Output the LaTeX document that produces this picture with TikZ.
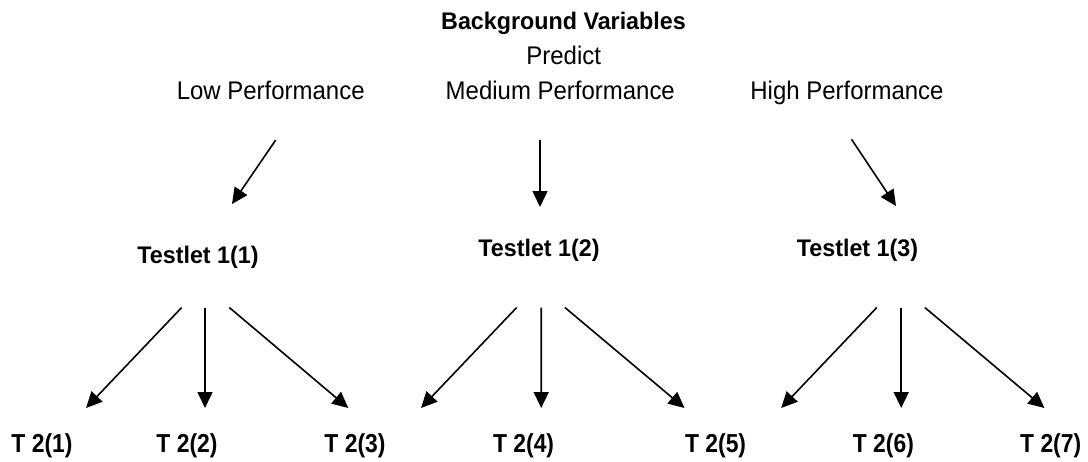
\documentclass[tikz,border=0pt]{standalone}
\usepackage{fontspec}
\setmainfont{Liberation Sans}
\newfontfamily\stretchA[FakeStretch=0.94]{Liberation Sans}
\newfontfamily\stretchB[FakeStretch=0.97]{Liberation Sans}
\newfontfamily\stretchC[FakeStretch=0.88]{Liberation Sans}
\usetikzlibrary{arrows.meta}
\begin{document}
\begin{tikzpicture}[x=1pt,y=-1pt,
  reg/.style={inner sep=0pt,anchor=base,font=\stretchA\fontsize{25.5pt}{28pt}\selectfont},
  bld/.style={inner sep=0pt,anchor=base,font=\stretchB\fontsize{24pt}{27pt}\selectfont\bfseries},
  sml/.style={inner sep=0pt,anchor=base,font=\stretchC\fontsize{26pt}{28pt}\selectfont\bfseries},
  arr/.style={line width=1.6pt,-{Triangle[length=16pt,width=15pt]}}]
\useasboundingbox[fill=white] (0,0) rectangle (1088,461);
% top texts
\node[bld] (title) at (563.5,29.3) {Background Variables};
\node[reg] (predict) at (563.7,64) {Predict};
\node[reg] (medium) at (560.3,99) {Medium Performance};
\node[reg] (low) at (270.7,99) {Low Performance};
\node[reg] (high) at (847,99) {High Performance};
% testlets
\node[bld] (t11) at (198,263) {Testlet 1(1)};
\node[bld] (t12) at (539,256) {Testlet 1(2)};
\node[bld] (t13) at (857.5,256) {Testlet 1(3)};
% second stage
\node[sml] (s1) at (42,452) {T 2(1)};
\node[sml] (s2) at (187,452) {T 2(2)};
\node[sml] (s3) at (355,452) {T 2(3)};
\node[sml] (s4) at (523.6,452) {T 2(4)};
\node[sml] (s5) at (715.6,452) {T 2(5)};
\node[sml] (s6) at (883.4,452) {T 2(6)};
\node[sml] (s7) at (1050.7,452) {T 2(7)};
\coordinate (f2) at (421,408);
\coordinate (f3) at (781.2,408);
% top arrows
\draw[arr] ([shift={(5,41)}]low.base) -- ([shift={(34,-59)}]t11.base);
\draw[arr] ([shift={(-20.3,41)}]medium.base) -- ([shift={(1,-49)}]t12.base);
\draw[arr] ([shift={(4.5,40.3)}]high.base) -- ([shift={(38.5,-50)}]t13.base);
% group 1
\draw[arr] ([shift={(-16.3,44.5)}]t11.base) -- ([shift={(44,-44)}]s1.base);
\draw[arr] ([shift={(7,44.5)}]t11.base) -- ([shift={(18,-44)}]s2.base);
\draw[arr] ([shift={(31.3,44.5)}]t11.base) -- ([shift={(-6.7,-44)}]s3.base);
% group 2
\draw[arr] ([shift={(-22.3,51.5)}]t12.base) -- (f2);
\draw[arr] ([shift={(2.2,51.5)}]t12.base) -- ([shift={(17.6,-44)}]s4.base);
\draw[arr] ([shift={(25.9,51.5)}]t12.base) -- ([shift={(-31.1,-44)}]s5.base);
% group 3
\draw[arr] ([shift={(19.3,51.5)}]t13.base) -- (f3);
\draw[arr] ([shift={(43.7,51.5)}]t13.base) -- ([shift={(17.8,-44)}]s6.base);
\draw[arr] ([shift={(67.3,51.5)}]t13.base) -- ([shift={(-6.3,-44)}]s7.base);
\end{tikzpicture}
\end{document}
